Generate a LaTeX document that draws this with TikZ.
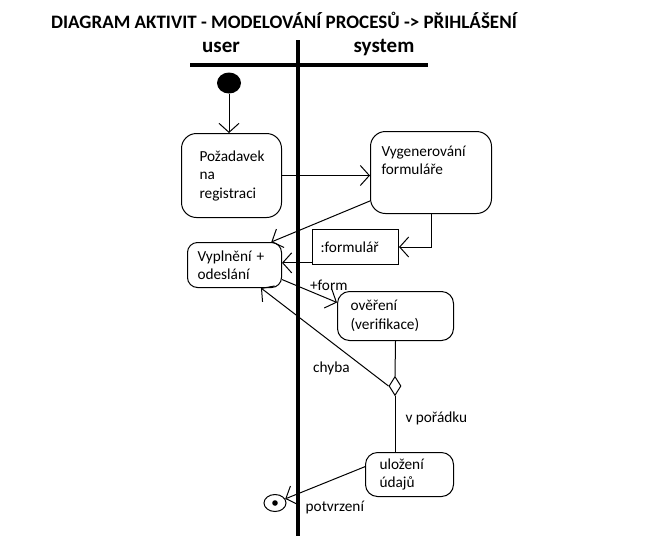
\documentclass[tikz,border=0pt]{standalone}
\usepackage{fontspec}
\setmainfont{Carlito}
\usepackage{tikz}
\usetikzlibrary{arrows.meta, shapes.geometric, positioning}

\tikzset{
  act/.style={draw, line width=1pt, rounded corners=#1, anchor=north west, align=left,
    font=\fontsize{15.3}{18.5}\selectfont, inner ysep=0pt},
  act/.default=14,
  obj/.style={draw, line width=1pt, anchor=north west, align=left,
    font=\fontsize{15.3}{18.5}\selectfont, inner ysep=0pt},
  flow/.style={line width=1pt, -{Straight Barb[length=9pt,width=20pt,line width=1pt]}},
  plain/.style={line width=1pt},
  lbl/.style={font=\fontsize{15.3}{18.5}\selectfont, inner sep=0pt},
  lane/.style={line width=4pt},
  head/.style={font=\bfseries\fontsize{21}{24}\selectfont, inner sep=0pt}
}

\begin{document}
\begin{tikzpicture}[x=1pt,y=-1pt]
\useasboundingbox (0,0) rectangle (668,536);
% title and swimlanes
\node[font=\bfseries\fontsize{19}{22}\selectfont, inner sep=0pt] (title) at (284,20) {DIAGRAM AKTIVIT - MODELOVÁNÍ PROCESŮ -> PŘIHLÁŠENÍ};
\node[head] (user) at (221,47) {user};
\node[head] (system) at (384,48) {system};
\draw[lane] (190,65) -- (428,65);
\draw[lane] (298,40) -- (298,536);

% start and end
\node[ellipse, fill=black, minimum width=24pt, minimum height=21pt, inner sep=0pt] (start) at (229,83) {};
\node[ellipse, draw, line width=1pt, minimum width=22pt, minimum height=17pt, inner sep=0pt] (end) at (275,503) {};
\fill (end.center) circle (2.8pt);

% activities
\node[act=15, minimum width=100pt, minimum height=84pt, inner xsep=18pt, text width=64pt] (pozad) at (181,133) {Požadavek\\na\\registraci};
\node[act=15, minimum width=121pt, minimum height=82pt, inner xsep=11pt, text width=99pt] (vygen) at (370,131) {Vygenerování\\formuláře\\\strut};
\node[obj, minimum width=86pt, minimum height=35pt, inner xsep=8pt, text width=70pt] (form) at (312,229) {:formulář\\[-4pt]};
\node[act=10, minimum width=94pt, minimum height=45pt, inner xsep=10pt, text width=74pt] (vypl) at (187,242) {Vyplnění +\\odeslání};
\node[act=12, minimum width=116pt, minimum height=49pt, inner xsep=13pt, text width=90pt] (over) at (337,291) {ověření\\(verifikace)};
\node[diamond, draw, line width=1pt, minimum width=12pt, minimum height=19pt, inner sep=0pt] (dec) at (395,386) {};
\node[act=12, minimum width=88pt, minimum height=44pt, inner xsep=14pt, text width=60pt] (uloz) at (365,452) {uložení\\údajů};

% flows
\draw[flow] (start.south) -- (start.south |- pozad.north);
\draw[flow] (pozad.east) -- (pozad.east -| vygen.west);
\draw[flow] (vygen.205) -- (vypl.32);
\draw[flow] (vygen.south) |- (form.east);
\draw[flow] (form.200) -- (form.200 -| vypl.east);
\draw[flow] (vypl.-17) -- node[lbl, pos=0.5, anchor=south west] {+form} (over.167);
\draw[plain] (over.south) -- (dec.north);
\draw[flow] (dec.west) -- node[lbl, pos=0.3, anchor=north east, yshift=-5pt] {chyba} (vypl.-41);
\draw[plain] (dec.south) -- node[lbl, pos=0.4, anchor=west, xshift=10pt] {v pořádku} (dec.south |- uloz.north);
\draw[flow] (uloz.170) -- node[lbl, pos=0.75, anchor=north west, yshift=-10pt] {potvrzení} (end);
\end{tikzpicture}
\end{document}
